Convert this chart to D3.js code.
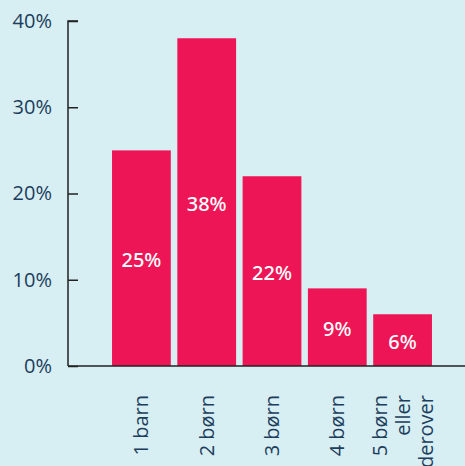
<!DOCTYPE html>
<html><head><meta charset="utf-8">
<script src="https://cdn.jsdelivr.net/npm/d3@7"></script>
<style>
html,body{margin:0;padding:0;background:#d7eef3;}
svg{display:block;font-family:"Open Sans",sans-serif;}
</style></head>
<body>
<svg id="c" width="465" height="466"></svg>
<script>
const categories = [["1 barn"],["2 børn"],["3 børn"],["4 børn"],["5 børn","eller","derover"]];
const values = [25, 38, 22, 9, 6];
const yTicks = [0, 10, 20, 30, 40];

const svg = d3.select("#c");
const fs = 20;
const x = d3.scaleBand().domain(d3.range(categories.length)).range([105.5, 438.5]).padding(0.1);
const y = d3.scaleLinear().domain([0, 40]).range([366, 21]);

svg.append("rect").attr("width",465).attr("height",466).attr("fill","#d7eef3");

svg.selectAll("rect.bar").data(values).enter().append("rect")
  .attr("class","bar")
  .attr("x",(d,i)=>x(i)).attr("width",x.bandwidth())
  .attr("y",d=>y(d)).attr("height",d=>y(0)-y(d))
  .attr("fill","#ee1556");

svg.selectAll("text.val").data(values).enter().append("text")
  .attr("class","val")
  .attr("x",(d,i)=>x(i)+x.bandwidth()/2)
  .attr("y",d=>(y(d)+y(0))/2)
  .attr("dy","0.42em")
  .attr("text-anchor","middle")
  .attr("fill","#fff").attr("font-size",fs).attr("font-weight",500)
  .attr("font-family","'Noto Sans', 'Open Sans', sans-serif")
  .text(d=>d+"%");

// y axis
const ya = svg.append("g").attr("transform","translate(68,0)")
  .call(d3.axisRight(y).tickValues(yTicks).tickSize(10).tickFormat(d=>d+"%"));
ya.select(".domain").attr("stroke","#222").attr("stroke-width",1.5).attr("d","M10,21H0V366");
ya.selectAll(".tick line").attr("stroke","#222").attr("stroke-width",1.5);
ya.selectAll(".tick text").attr("x",-16).attr("text-anchor","end")
  .attr("fill","#1c3d5c").attr("font-size",fs).attr("font-family","Open Sans, sans-serif");

// x axis line
svg.append("line").attr("x1",68).attr("x2",465).attr("y1",y(0)).attr("y2",y(0))
  .attr("stroke","#222").attr("stroke-width",1.5);

// x labels
const lh = 23;
categories.forEach((lines,i)=>{
  const cx = x(i)+x.bandwidth()/2;
  const n = lines.length;
  lines.forEach((t,j)=>{
    const lx = cx + (j-(n-1)/2)*lh;
    svg.append("text")
      .attr("transform",`translate(${lx},395) rotate(-90)`)
      .attr("text-anchor","end").attr("dy","0.35em")
      .attr("fill","#1c3d5c").attr("font-size",fs)
      .text(t);
  });
});
</script>
</body></html>
